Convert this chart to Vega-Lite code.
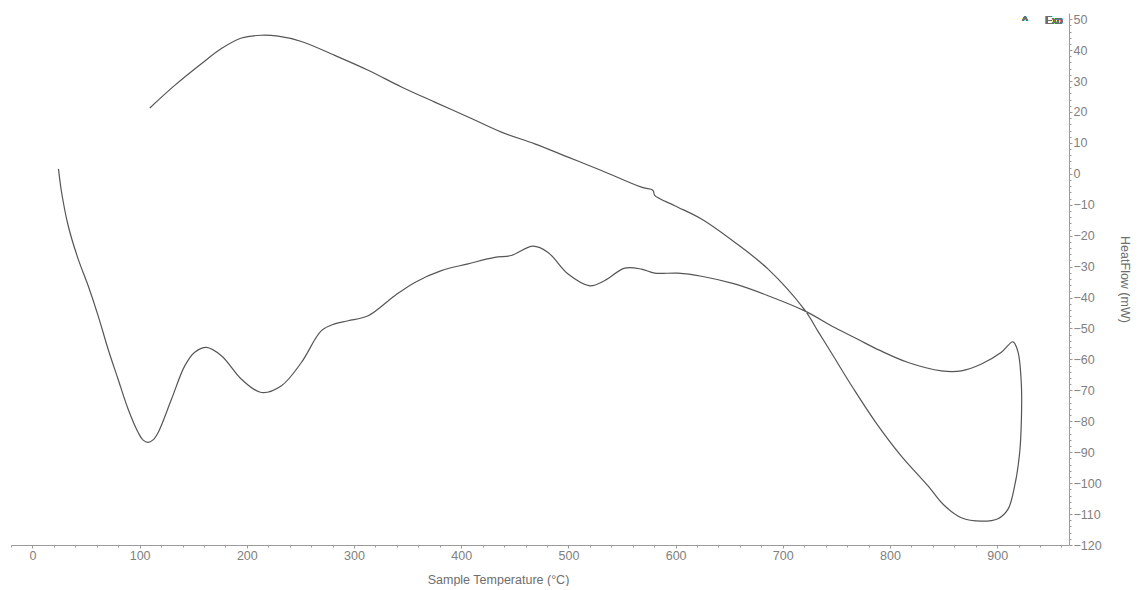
{
  "$schema": "https://vega.github.io/schema/vega-lite/v6.json",
  "width": 1058,
  "height": 532,
  "padding": {"left": 10, "top": 13, "right": 0, "bottom": 0},
  "background": "white",
  "config": {
    "view": {"stroke": null},
    "font": "Liberation Sans",
    "axis": {
      "labelFont": "Liberation Sans",
      "titleFont": "Liberation Sans",
      "labelColor": "#808080",
      "titleColor": "#6e6e6e",
      "labelFontSize": 12.5,
      "titleFontSize": 12.5,
      "titleFontWeight": "normal",
      "domainColor": "#9a9a9a",
      "tickColor": "#9a9a9a",
      "grid": false,
      "labelOverlap": false,
      "labelFlush": false
    }
  },
  "data": {
    "values": [
      {"i": 1, "T": 24.3, "H": 1.6},
      {"i": 2, "T": 27.1, "H": -5.8},
      {"i": 3, "T": 33.3, "H": -16.7},
      {"i": 4, "T": 42.6, "H": -27.5},
      {"i": 5, "T": 52.0, "H": -36.2},
      {"i": 6, "T": 61.3, "H": -45.9},
      {"i": 7, "T": 70.6, "H": -56.7},
      {"i": 8, "T": 79.9, "H": -66.4},
      {"i": 9, "T": 89.3, "H": -76.1},
      {"i": 10, "T": 98.6, "H": -83.6},
      {"i": 11, "T": 103.0, "H": -86.0},
      {"i": 12, "T": 107.9, "H": -86.8},
      {"i": 13, "T": 112.5, "H": -86.0},
      {"i": 14, "T": 117.3, "H": -83.6},
      {"i": 15, "T": 129.7, "H": -72.9},
      {"i": 16, "T": 142.1, "H": -62.1},
      {"i": 17, "T": 151.4, "H": -57.7},
      {"i": 18, "T": 162.3, "H": -56.1},
      {"i": 19, "T": 176.3, "H": -58.8},
      {"i": 20, "T": 195.0, "H": -66.4},
      {"i": 21, "T": 213.6, "H": -70.7},
      {"i": 22, "T": 232.3, "H": -68.5},
      {"i": 23, "T": 250.9, "H": -61.0},
      {"i": 24, "T": 269.6, "H": -50.7},
      {"i": 25, "T": 282.0, "H": -48.5},
      {"i": 26, "T": 294.5, "H": -47.5},
      {"i": 27, "T": 313.2, "H": -45.9},
      {"i": 28, "T": 338.0, "H": -39.4},
      {"i": 29, "T": 356.7, "H": -35.1},
      {"i": 30, "T": 381.5, "H": -31.3},
      {"i": 31, "T": 406.4, "H": -29.1},
      {"i": 32, "T": 431.3, "H": -27.0},
      {"i": 33, "T": 446.8, "H": -26.4},
      {"i": 34, "T": 467.0, "H": -23.4},
      {"i": 35, "T": 481.0, "H": -25.4},
      {"i": 36, "T": 499.7, "H": -32.4},
      {"i": 37, "T": 519.9, "H": -36.2},
      {"i": 38, "T": 533.9, "H": -34.5},
      {"i": 39, "T": 552.5, "H": -30.5},
      {"i": 40, "T": 568.1, "H": -30.8},
      {"i": 41, "T": 580.5, "H": -32.1},
      {"i": 42, "T": 602.3, "H": -32.1},
      {"i": 43, "T": 624.1, "H": -33.1},
      {"i": 44, "T": 655.1, "H": -35.6},
      {"i": 45, "T": 686.3, "H": -39.4},
      {"i": 46, "T": 720.4, "H": -44.3},
      {"i": 47, "T": 748.4, "H": -49.7},
      {"i": 48, "T": 770.0, "H": -53.5},
      {"i": 49, "T": 790.0, "H": -57.0},
      {"i": 50, "T": 817.0, "H": -61.0},
      {"i": 51, "T": 848.0, "H": -63.7},
      {"i": 52, "T": 866.6, "H": -63.7},
      {"i": 53, "T": 885.3, "H": -61.5},
      {"i": 54, "T": 903.9, "H": -57.7},
      {"i": 55, "T": 914.8, "H": -54.3},
      {"i": 56, "T": 919.5, "H": -57.7},
      {"i": 57, "T": 922.6, "H": -68.5},
      {"i": 58, "T": 922.6, "H": -79.3},
      {"i": 59, "T": 921.0, "H": -90.1},
      {"i": 60, "T": 916.3, "H": -100.9},
      {"i": 61, "T": 910.0, "H": -108.5},
      {"i": 62, "T": 900.8, "H": -111.5},
      {"i": 63, "T": 885.3, "H": -112.3},
      {"i": 64, "T": 866.6, "H": -111.2},
      {"i": 65, "T": 850.0, "H": -107.0},
      {"i": 66, "T": 835.5, "H": -100.9},
      {"i": 67, "T": 810.0, "H": -91.0},
      {"i": 68, "T": 786.0, "H": -80.0},
      {"i": 69, "T": 766.0, "H": -69.5},
      {"i": 70, "T": 745.0, "H": -57.7},
      {"i": 71, "T": 733.0, "H": -51.0},
      {"i": 72, "T": 720.4, "H": -44.0},
      {"i": 73, "T": 686.3, "H": -30.8},
      {"i": 74, "T": 655.1, "H": -22.1},
      {"i": 75, "T": 624.1, "H": -14.6},
      {"i": 76, "T": 599.2, "H": -10.3},
      {"i": 77, "T": 580.5, "H": -7.0},
      {"i": 78, "T": 579.5, "H": -5.8},
      {"i": 79, "T": 578.5, "H": -5.2},
      {"i": 80, "T": 568.1, "H": -4.3},
      {"i": 81, "T": 530.8, "H": 1.1},
      {"i": 82, "T": 499.7, "H": 5.4},
      {"i": 83, "T": 468.6, "H": 9.7},
      {"i": 84, "T": 437.5, "H": 13.5},
      {"i": 85, "T": 406.4, "H": 18.4},
      {"i": 86, "T": 375.3, "H": 23.2},
      {"i": 87, "T": 344.2, "H": 28.1},
      {"i": 88, "T": 313.2, "H": 33.5},
      {"i": 89, "T": 282.0, "H": 38.3},
      {"i": 90, "T": 250.9, "H": 42.8},
      {"i": 91, "T": 229.2, "H": 44.5},
      {"i": 92, "T": 213.6, "H": 44.8},
      {"i": 93, "T": 195.0, "H": 43.9},
      {"i": 94, "T": 176.3, "H": 40.5},
      {"i": 95, "T": 157.6, "H": 35.6},
      {"i": 96, "T": 132.7, "H": 28.6},
      {"i": 97, "T": 109.5, "H": 21.3}
    ]
  },
  "layer": [
    {
      "mark": {"type": "line", "interpolate": "catmull-rom", "color": "#555555", "strokeWidth": 1.2},
      "encoding": {
        "x": {
          "field": "T",
          "type": "quantitative",
          "scale": {"domain": [-20, 967], "nice": false, "zero": false},
          "axis": {
            "orient": "bottom",
            "title": "Sample Temperature (°C)",
            "titleX": 487,
            "titlePadding": 12,
            "format": "d",
            "tickCount": 500,
            "values": [-20, 0, 20, 40, 60, 80, 100, 120, 140, 160, 180, 200, 220, 240, 260, 280, 300, 320, 340, 360, 380, 400, 420, 440, 460, 480, 500, 520, 540, 560, 580, 600, 620, 640, 660, 680, 700, 720, 740, 760, 780, 800, 820, 840, 860, 880, 900, 920, 940, 960],
            "labelExpr": "datum.value % 100 === 0 ? datum.label : ''",
            "tickSize": {"condition": {"test": "datum.value % 100 === 0", "value": 3}, "value": 2},
            "labelPadding": 1,
            "labelOverlap": false
          }
        },
        "y": {
          "field": "H",
          "type": "quantitative",
          "scale": {"domain": [-120, 52], "nice": false, "zero": false},
          "axis": {
            "orient": "right",
            "title": "HeatFlow (mW)",
            "titlePadding": 16,
            "format": "d",
            "tickCount": 500,
            "values": [-120, -118, -116, -114, -112, -110, -108, -106, -104, -102, -100, -98, -96, -94, -92, -90, -88, -86, -84, -82, -80, -78, -76, -74, -72, -70, -68, -66, -64, -62, -60, -58, -56, -54, -52, -50, -48, -46, -44, -42, -40, -38, -36, -34, -32, -30, -28, -26, -24, -22, -20, -18, -16, -14, -12, -10, -8, -6, -4, -2, 0, 2, 4, 6, 8, 10, 12, 14, 16, 18, 20, 22, 24, 26, 28, 30, 32, 34, 36, 38, 40, 42, 44, 46, 48, 50],
            "labelExpr": "datum.value % 10 === 0 ? datum.label : ''",
            "tickSize": {"condition": {"test": "datum.value % 10 === 0", "value": 3}, "value": 2},
            "labelPadding": 1,
            "labelOverlap": false
          }
        },
        "order": {"field": "i", "type": "quantitative"}
      }
    },
    {
      "mark": {"type": "text", "text": "^", "font": "Liberation Sans", "fontSize": 12, "color": "#6e6e6e", "align": "center", "baseline": "middle"},
      "encoding": {
        "x": {"datum": 926},
        "y": {"datum": 49.5}
      }
    },
    {
      "mark": {"type": "text", "text": "Exo", "font": "Liberation Sans", "fontSize": 10, "color": "#6e6e6e", "align": "left", "baseline": "middle"},
      "encoding": {
        "x": {"datum": 945},
        "y": {"datum": 49.5}
      }
    }
  ]
}
